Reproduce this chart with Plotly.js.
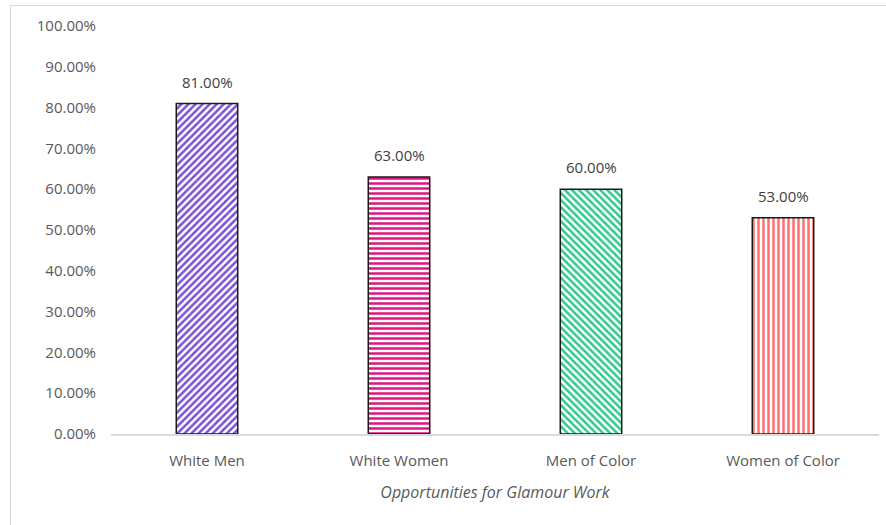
<!DOCTYPE html>
<html>
<head>
<meta charset="utf-8">
<script src="https://cdn.plot.ly/plotly-3.0.1.min.js"></script>
<style>
html,body{margin:0;padding:0;background:#fff;}
#wrap{position:relative;width:886px;height:525px;}
#chart{width:886px;height:525px;}
#frame{position:absolute;left:10px;top:5px;width:880px;height:530px;border-left:1.5px solid #d9d9d9;border-top:1.5px solid #d9d9d9;pointer-events:none;}
</style>
</head>
<body>
<div id="wrap"><div id="chart"></div><div id="frame"></div></div>
<script>
const categories = ["White Men", "White Women", "Men of Color", "Women of Color"];
const values = [81, 63, 60, 53];
const colors = ["#7a4fd6", "#e0147f", "#2ec98f", "#ff7070"];
const shapes = ["/", "-", "\\", "|"];
const xTitle = "Opportunities for Glamour Work";

const font = "'Open Sans', Lato, sans-serif";

const trace = {
  type: "bar",
  x: categories,
  y: values,
  marker: {
    color: "#ffffff",
    line: {color: "#1a1a1a", width: 1.5},
    pattern: {shape: shapes, fgcolor: colors, fgopacity: 1, bgcolor: "#ffffff", size: 5, solidity: 0.5, fillmode: "overlay"}
  },
  hoverinfo: "none"
};

const annotations = categories.map((c, i) => ({
  x: c, y: values[i], xref: "x", yref: "y",
  text: values[i].toFixed(2) + "%",
  showarrow: false, yanchor: "bottom", yshift: 10,
  font: {family: font, size: 15, color: "#404040"}
}));

const layout = {
  width: 886, height: 525,
  margin: {l: 111, r: 7, t: 26, b: 91},
  paper_bgcolor: "#ffffff", plot_bgcolor: "#ffffff",
  bargap: 0.68,
  showlegend: false,
  font: {family: font, size: 14, color: "#595959"},
  xaxis: {
    showline: true, linecolor: "#d9d9d9", linewidth: 1.5,
    ticks: "", showgrid: false, zeroline: false,
    ticklabelstandoff: 12,
    tickfont: {family: font, size: 15, color: "#595959"},
    title: {text: "<i>" + xTitle + "</i>", standoff: 18, font: {family: font, size: 16, color: "#595959"}}
  },
  yaxis: {
    range: [0, 100], dtick: 10, tick0: 0,
    tickformat: ".2f", ticksuffix: "%",
    showgrid: false, zeroline: false, showline: false, ticks: "",
    ticklabelstandoff: 14,
    tickfont: {family: font, size: 15, color: "#595959"}
  },
  annotations: annotations
};

Plotly.newPlot("chart", [trace], layout, {displayModeBar: false, staticPlot: true});
</script>
</body>
</html>
